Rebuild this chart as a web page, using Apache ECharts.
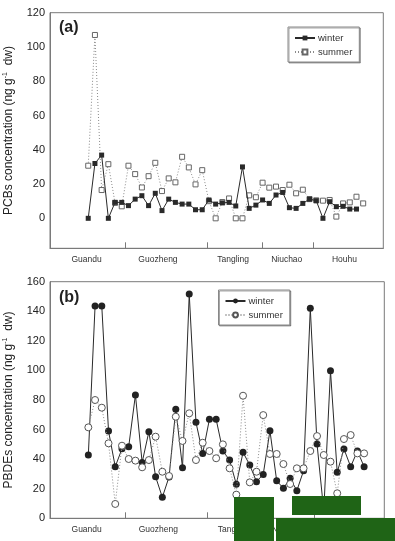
<!DOCTYPE html>
<html>
<head>
<meta charset="utf-8">
<script src="https://cdn.jsdelivr.net/npm/echarts@6/dist/echarts.min.js"></script>
<style>
html,body{margin:0;padding:0;background:#fff;}
#c{width:395px;height:541px;}
</style>
</head>
<body>
<div id="c"></div>
<script>
// ---- data ----
var sites = ['Guandu', 'Guozheng', 'Tangling', 'Niuchao', 'Houhu'];
var siteLabelPos = [0.75, 11.4, 22.6, 30.6, 39.2];
var siteBounds = [6.47, 18.7, 26.9, 34.6];
var sampleIdx = [1,2,3,4,5,6,7,8,9,10,11,12,13,14,15,16,17,18,19,20,21,22,23,24,25,26,27,28,29,30,31,32,33,34,35,36,37,38,39,40,41,42];

var pcbWinter = [0,32,36.9,0,9.3,9.3,7.4,11.2,13.2,7.4,14.6,4.5,11.2,9.3,8.3,8.3,5,5,10.7,8.3,9,9.3,7.2,30,5.8,7.7,10.7,8.7,13.6,15.1,6.2,5.8,8.7,11.2,10.3,0,9.7,6.8,7,5.4,5.4,null];
var pcbSummer = [30.7,107,16.5,31.6,9,7,30.7,25.8,18,24.6,32.4,15.9,23.3,21,35.9,29.7,19.8,28.1,10,0,9.5,11.6,0,0,13.4,12.3,20.8,17.9,18.5,16.5,19.6,14.6,16.7,11.2,10.5,10.3,10.7,1,8.7,9.3,12.6,8.7];

var pbdeWinter = [42.8,143.5,143.5,59,34.9,47,48.4,83.4,37.8,58.6,28.1,14.2,28,73.7,34.2,151.6,64.9,43.9,66.9,66.9,45.5,39.4,23,44.6,36,24.8,29.7,59.2,25.4,20.3,27,18.7,32.2,142,50.2,5,99.7,31.1,46.9,34.9,45.5,34.9];
var pbdeSummer = [61.5,80,74.8,50.7,9.7,49.1,40.1,39,34.5,39.4,55.2,31.5,28.6,68.7,52.3,71,39.4,51.1,45.5,40.6,50,33.8,16,82.9,24.3,31.5,69.8,43.5,43.5,36.7,23.2,33.8,33.8,45.5,55.6,42.8,38.3,16.9,53.6,56.3,43.9,43.9];

var pcbTicks = [0,20,40,60,80,100,120];
var pbdeTicks = [0,20,40,60,80,100,120,140,160];

function pairs(vals){ return sampleIdx.map(function(x,i){ return [x, vals[i]]; }); }

var FONT = 'Liberation Sans, Arial, sans-serif';
var FRAME = '#7a7a7a';

function xAxisCfg(gi){
  return {
    gridIndex: gi, type: 'value', min: -4.7, max: 45,
    axisLine: {show: true, onZero: false, lineStyle: {color: FRAME, width: 1}},
    splitLine: {show: false},
    axisTick: {show: true, inside: true, length: 6, customValues: siteBounds, lineStyle: {color: FRAME}},
    axisLabel: {
      customValues: siteLabelPos, margin: 7, color: '#333', fontSize: 8.5, fontFamily: FONT,
      formatter: function(v){
        var best = 0, d = 1e9;
        siteLabelPos.forEach(function(p,i){ if (Math.abs(p - v) < d){ d = Math.abs(p - v); best = i; } });
        return sites[best];
      }
    }
  };
}

function yAxisCfg(gi, min, max, ticks, nameMain){
  return {
    gridIndex: gi, type: 'value', min: min, max: max,
    axisLine: {show: true, onZero: false, lineStyle: {color: FRAME}},
    splitLine: {show: false},
    axisTick: {show: false, customValues: ticks},
    axisLabel: {customValues: ticks, color: '#222', fontSize: 11, fontFamily: FONT, margin: 5},
    name: '{a|' + nameMain + ' (ng g}{s|-1}{a|  dw)}',
    nameLocation: 'middle', nameRotate: 90, nameGap: 34,
    nameTextStyle: {
      fontFamily: FONT, color: '#222',
      rich: {
        a: {fontSize: 12, fontFamily: FONT, color: '#222', lineHeight: 14},
        s: {fontSize: 7, fontFamily: FONT, color: '#222', lineHeight: 14, padding: [0,0,7,0]}
      }
    }
  };
}

var chart = echarts.init(document.getElementById('c'), null, {renderer: 'canvas'});
var legendBase = {
  orient: 'vertical', itemWidth: 20, itemHeight: 6, itemGap: 4,
  padding: [6, 7, 5, 6],
  backgroundColor: '#fff', borderColor: '#888', borderWidth: 1,
  shadowColor: 'rgba(0,0,0,0.35)', shadowOffsetX: 1, shadowOffsetY: 1, shadowBlur: 0,
  textStyle: {fontSize: 9.5, fontFamily: FONT, color: '#333', padding: [0,0,0,-2]},
  formatter: function(n){ return n.split(' ')[0]; }
};

chart.setOption({
  animation: false,
  backgroundColor: '#fff',
  grid: [
    {left: 50, top: 12.7, width: 333.3, height: 235.6, show: true, borderColor: FRAME, borderWidth: 1, outerBoundsMode: 'none', containLabel: false},
    {left: 50, top: 281.7, width: 334.3, height: 236.6, show: true, borderColor: FRAME, borderWidth: 1, outerBoundsMode: 'none', containLabel: false}
  ],
  xAxis: [xAxisCfg(0), xAxisCfg(1)],
  yAxis: [
    yAxisCfg(0, -17.5, 120, pcbTicks, 'PCBs concentration'),
    yAxisCfg(1, 0, 160, pbdeTicks, 'PBDEs concentration')
  ],
  legend: [
    Object.assign({}, legendBase, {left: 288, top: 27, data: ['winter (a)', 'summer (a)']}),
    Object.assign({}, legendBase, {left: 218.5, top: 290, data: ['winter (b)', 'summer (b)']})
  ],
  series: [
    {name: 'winter (a)', type: 'line', xAxisIndex: 0, yAxisIndex: 0, data: pairs(pcbWinter),
     symbol: 'rect', symbolSize: 5, z: 3,
     lineStyle: {color: '#2a2a2a', width: 1}, itemStyle: {color: '#2a2a2a', borderWidth: 0}},
    {name: 'summer (a)', type: 'line', xAxisIndex: 0, yAxisIndex: 0, data: pairs(pcbSummer),
     symbol: 'rect', symbolSize: 5, z: 2, showAllSymbol: true,
     lineStyle: {color: '#8a8a8a', width: 1, type: [1, 2]}, itemStyle: {color: '#fff', borderColor: '#666', borderWidth: 1}},
    {name: 'winter (b)', type: 'line', xAxisIndex: 1, yAxisIndex: 1, data: pairs(pbdeWinter),
     symbol: 'circle', symbolSize: 7, z: 3,
     lineStyle: {color: '#2a2a2a', width: 1}, itemStyle: {color: '#222', borderWidth: 0}},
    {name: 'summer (b)', type: 'line', xAxisIndex: 1, yAxisIndex: 1, data: pairs(pbdeSummer),
     symbol: 'circle', symbolSize: 7, z: 4, showAllSymbol: true,
     lineStyle: {color: '#8a8a8a', width: 1, type: [1, 2]}, itemStyle: {color: '#fff', borderColor: '#555', borderWidth: 1}}
  ],
  graphic: [
    {type: 'text', left: 59, top: 20, style: {text: '(a)', font: 'bold 16px ' + FONT, fill: '#222'}},
    {type: 'text', left: 59, top: 290, style: {text: '(b)', font: 'bold 16px ' + FONT, fill: '#222'}},
    {type: 'rect', shape: {x: 234, y: 497, width: 40, height: 44}, style: {fill: '#1f6416'}, z: 100},
    {type: 'rect', shape: {x: 292, y: 496, width: 69, height: 19}, style: {fill: '#1f6416'}, z: 100},
    {type: 'rect', shape: {x: 276, y: 518, width: 119, height: 23}, style: {fill: '#1f6416'}, z: 100}
  ]
});
</script>
</body>
</html>
